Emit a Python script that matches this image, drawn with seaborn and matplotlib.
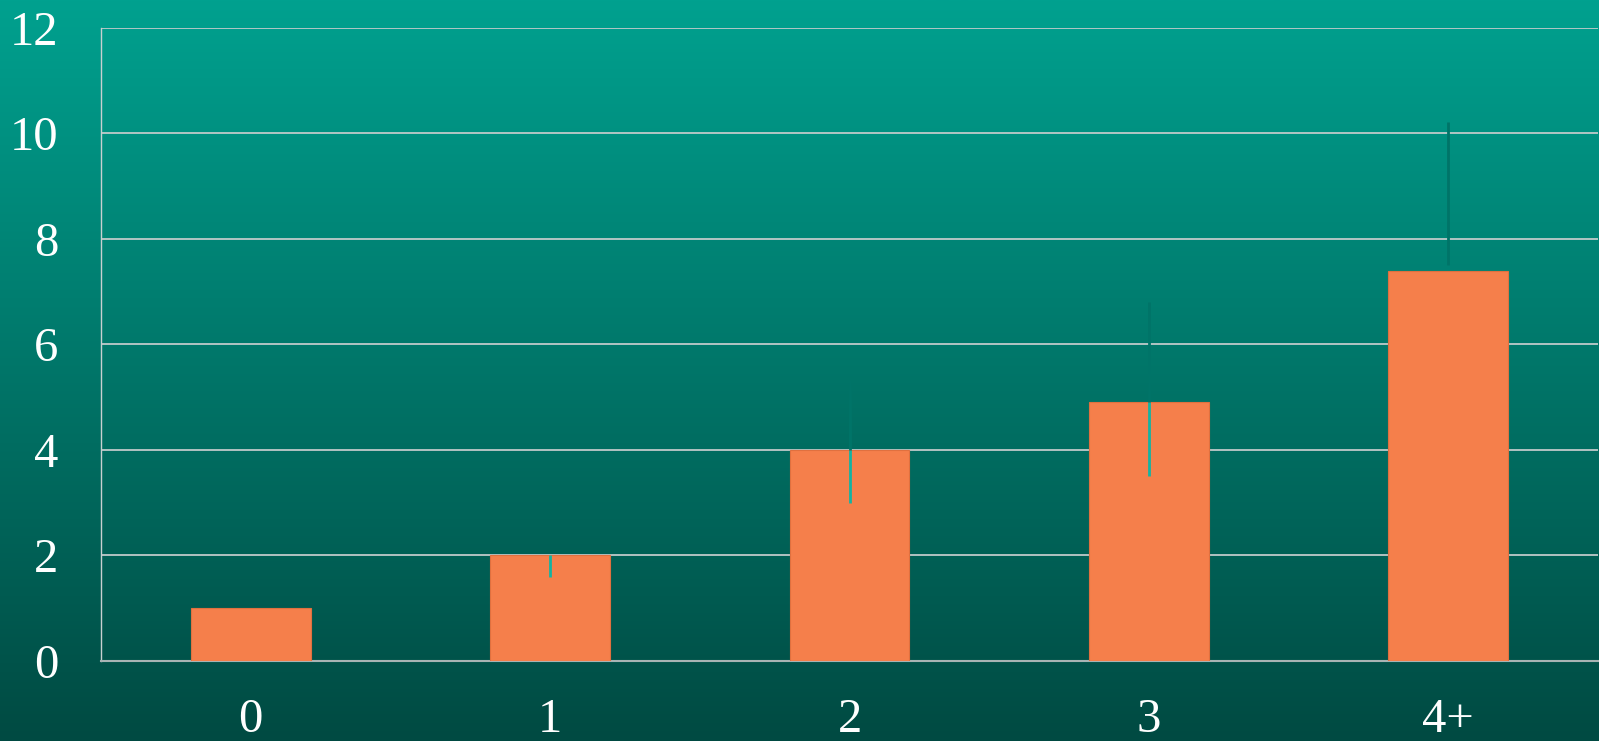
import numpy as np
import pandas as pd
import matplotlib
matplotlib.use("Agg")
import matplotlib.pyplot as plt
from matplotlib.colors import LinearSegmentedColormap
import seaborn as sns

# ---- data ----
categories = ["0", "1", "2", "3", "4+"]
values = [1.0, 2.0, 4.0, 4.9, 7.4]
err_low = [1.0, 1.6, 3.0, 3.5, 7.5]
err_high = [1.0, 2.0, 5.33, 6.8, 10.22]
yticks = [0, 2, 4, 6, 8, 10, 12]

sns.set_theme(style="white")
plt.rcParams["font.family"] = ["Liberation Serif", "DejaVu Serif"]

fig = plt.figure(figsize=(15.99, 7.41), dpi=100)

# gradient background
bg = fig.add_axes([0, 0, 1, 1], zorder=-10)
cmap = LinearSegmentedColormap.from_list("bg", ["#00a18f", "#004a42"])
grad = np.linspace(0, 1, 256).reshape(-1, 1)
bg.imshow(grad, aspect="auto", cmap=cmap, extent=[0, 1, 0, 1])
bg.set_axis_off()

ax = fig.add_axes([0.0632, 0.108, 0.9362, 0.8543])
ax.set_facecolor("none")

df = pd.DataFrame({"cat": categories, "val": values})
sns.barplot(data=df, x="cat", y="val", order=categories, color="#f57f4b",
            saturation=1, width=0.4, errorbar=None, ax=ax, zorder=3,
            edgecolor="#e0703f", linewidth=0.8)

# error bars: part inside bar (bright teal) and above bar (dark teal)
for i, (v, lo, hi) in enumerate(zip(values, err_low, err_high)):
    inner_top = min(v, hi)
    if lo < inner_top:
        ax.vlines(i, lo, inner_top, color="#14b3a2", lw=2, zorder=4)
    outer_lo = max(v, lo)
    if hi > outer_lo:
        ax.vlines(i, outer_lo, hi, color="#007468", lw=2, zorder=4)

ax.set_xlim(-0.5, 4.5)
ax.set_ylim(0, 12)
ax.set_yticks(yticks)
ax.set_yticklabels([str(t) for t in yticks])
ax.yaxis.grid(True, color="#c0caca", lw=1.3, zorder=1)
ax.set_axisbelow(True)
ax.set_xlabel("")
ax.set_ylabel("")

for s in ["top", "right"]:
    ax.spines[s].set_visible(False)
ax.spines["left"].set_color("#c8d0d0")
ax.spines["left"].set_linewidth(1.0)
ax.spines["bottom"].set_color("#a8b4b4")
ax.spines["bottom"].set_linewidth(1.5)

ax.tick_params(axis="y", length=0, pad=31, labelsize=35, labelcolor="white")
ax.tick_params(axis="x", length=0, pad=27, labelsize=35, labelcolor="white")

fig.savefig("out.png", dpi=100)
